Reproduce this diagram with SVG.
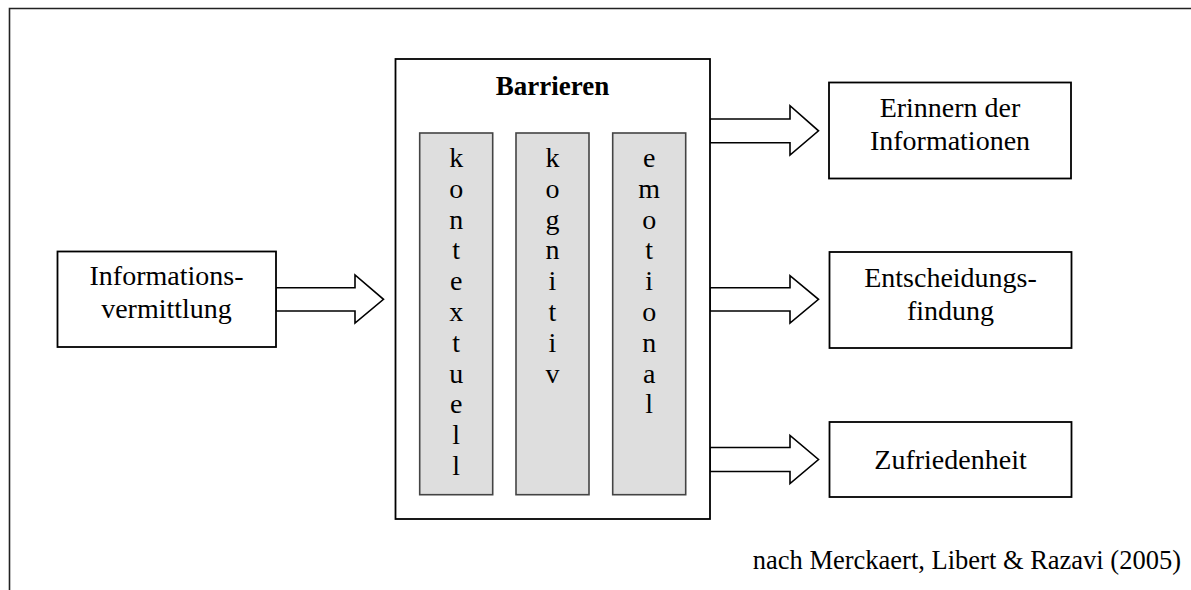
<svg xmlns="http://www.w3.org/2000/svg" width="1191" height="590" viewBox="0 0 1191 590">
  <style>
    .frame { fill: none; stroke: #222; stroke-width: 1.6; }
    .box { fill: #fff; stroke: #000; stroke-width: 1.8; }
    .col { fill: #dedede; stroke: #444; stroke-width: 1.6; }
    .arrow { fill: #fff; stroke: #000; stroke-width: 1.6; stroke-linejoin: miter; }
    text { font-family: "Liberation Serif", "Times New Roman", serif; fill: #000; }
    .label { font-size: 28px; text-anchor: middle; }
    .title { font-size: 27px; font-weight: bold; text-anchor: middle; }
    .letter { font-size: 28px; text-anchor: middle; }
    .source { font-size: 26.5px; text-anchor: end; }
  </style>

  <!-- outer frame (only top and left edges in view) -->
  <path class="frame" d="M9.5 591 V8.5 H1192"/>

  <!-- connectors: block arrows -->
  <g id="connectors">
    <polygon class="arrow" points="276,287.7 355,287.7 355,275 383.5,299.3 355,323 355,311 276,311"/>
    <polygon class="arrow" points="710,119 790,119 790,105.7 818.5,130.8 790,155 790,142.7 710,142.7"/>
    <polygon class="arrow" points="710,287.7 790,287.7 790,275.7 818.5,299.3 790,323 790,311 710,311"/>
    <polygon class="arrow" points="710,447.5 790,447.5 790,435.5 818.5,459.5 790,483.5 790,471.5 710,471.5"/>
  </g>

  <!-- input node -->
  <g id="node-informationsvermittlung">
    <rect class="box" x="57.5" y="251.5" width="218.5" height="95.5"/>
    <text class="label" x="166.5" y="285">Informations-</text>
    <text class="label" x="166.5" y="318">vermittlung</text>
  </g>

  <!-- barrier block with three columns -->
  <g id="node-barrieren">
    <rect class="box" x="395.5" y="59" width="314.5" height="460"/>
    <text class="title" x="552.5" y="95">Barrieren</text>
  </g>

  <g id="node-kontextuell">
    <rect class="col" x="419.7" y="133" width="73" height="361.7"/>
    <text class="letter" x="456.2" y="167">k</text>
    <text class="letter" x="456.2" y="197.8">o</text>
    <text class="letter" x="456.2" y="228.6">n</text>
    <text class="letter" x="456.2" y="259.4">t</text>
    <text class="letter" x="456.2" y="290.2">e</text>
    <text class="letter" x="456.2" y="321">x</text>
    <text class="letter" x="456.2" y="351.8">t</text>
    <text class="letter" x="456.2" y="382.6">u</text>
    <text class="letter" x="456.2" y="413.4">e</text>
    <text class="letter" x="456.2" y="444.2">l</text>
    <text class="letter" x="456.2" y="475">l</text>
  </g>

  <g id="node-kognitiv">
    <rect class="col" x="516" y="133" width="73" height="361.7"/>
    <text class="letter" x="552.5" y="167">k</text>
    <text class="letter" x="552.5" y="197.8">o</text>
    <text class="letter" x="552.5" y="228.6">g</text>
    <text class="letter" x="552.5" y="259.4">n</text>
    <text class="letter" x="552.5" y="290.2">i</text>
    <text class="letter" x="552.5" y="321">t</text>
    <text class="letter" x="552.5" y="351.8">i</text>
    <text class="letter" x="552.5" y="382.6">v</text>
  </g>

  <g id="node-emotional">
    <rect class="col" x="612.7" y="133" width="73" height="361.7"/>
    <text class="letter" x="649.2" y="167">e</text>
    <text class="letter" x="649.2" y="197.8">m</text>
    <text class="letter" x="649.2" y="228.6">o</text>
    <text class="letter" x="649.2" y="259.4">t</text>
    <text class="letter" x="649.2" y="290.2">i</text>
    <text class="letter" x="649.2" y="321">o</text>
    <text class="letter" x="649.2" y="351.8">n</text>
    <text class="letter" x="649.2" y="382.6">a</text>
    <text class="letter" x="649.2" y="413.4">l</text>
  </g>

  <!-- outcome nodes -->
  <g id="node-erinnern">
    <rect class="box" x="829" y="82.5" width="242" height="96"/>
    <text class="label" x="950" y="117">Erinnern der</text>
    <text class="label" x="950" y="150">Informationen</text>
  </g>

  <g id="node-entscheidungsfindung">
    <rect class="box" x="829.5" y="252" width="242" height="96"/>
    <text class="label" x="950.5" y="287">Entscheidungs-</text>
    <text class="label" x="950.5" y="320">findung</text>
  </g>

  <g id="node-zufriedenheit">
    <rect class="box" x="829.5" y="422" width="242" height="75"/>
    <text class="label" x="950.5" y="469">Zufriedenheit</text>
  </g>

  <!-- source note -->
  <text class="source" x="1181" y="569">nach Merckaert, Libert &amp; Razavi (2005)</text>
</svg>
